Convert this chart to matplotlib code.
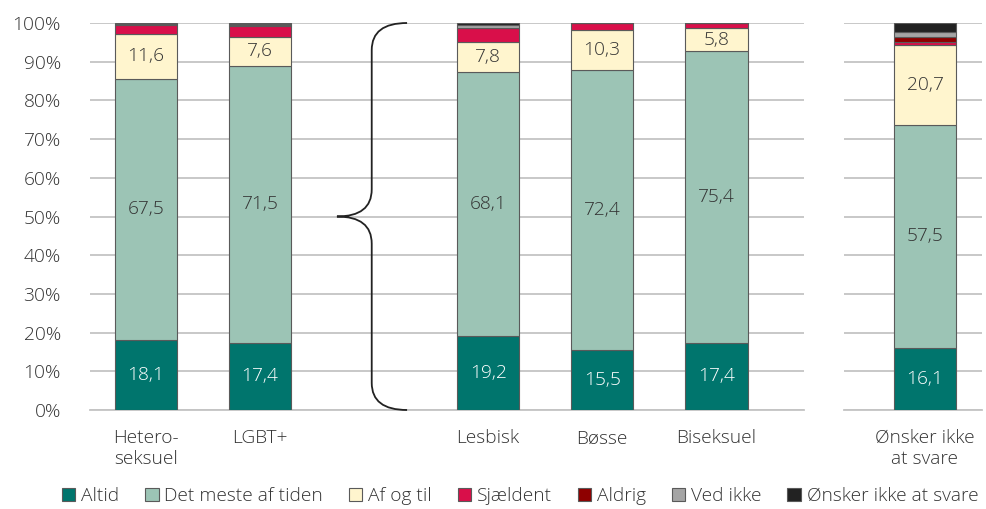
import matplotlib.pyplot as plt
from matplotlib.patches import Patch, PathPatch
from matplotlib.path import Path

plt.rcParams['font.family'] = ['Open Sans', 'DejaVu Sans']
plt.rcParams['font.weight'] = 'light'

# Groups: three main panels share one axis, the last one gets its own
grupper = ["Hetero-\nseksuel", "LGBT+", "Lesbisk", "Bøsse", "Biseksuel"]
grupper_pos = [0, 1, 3, 4, 5]
sidste_gruppe = "Ønsker ikke\nat svare"

kategorier = ["Altid", "Det meste af tiden", "Af og til", "Sjældent",
              "Aldrig", "Ved ikke", "Ønsker ikke at svare"]
farver = ["#00756D", "#9CC4B5", "#FFF5CE", "#D90F4A",
          "#8E0000", "#A5A5A5", "#222222"]

altid = [18.1, 17.4, 19.2, 15.5, 17.4]
meste = [67.5, 71.5, 68.1, 72.4, 75.4]
af_og_til = [11.6, 7.6, 7.8, 10.3, 5.8]
sjaeldent = [2.4, 2.7, 3.5, 1.8, 1.4]
aldrig = [0.1, 0.2, 0.2, 0.0, 0.0]
ved_ikke = [0.1, 0.3, 0.6, 0.0, 0.0]
onsker = [0.2, 0.3, 0.6, 0.0, 0.0]

# "Ønsker ikke at svare" group
sidste = [16.1, 57.5, 20.7, 0.9, 1.3, 1.2, 2.3]

serier = [altid, meste, af_og_til, sjaeldent, aldrig, ved_ikke, onsker]
vis_tal = [True, True, True, False, False, False, False]

BAR_W = 0.55
GRID = "#C4C4C4"
TXT = "#333333"
FS = 13.8

fig = plt.figure(figsize=(9.87, 5.09), dpi=100)
ax = fig.add_axes([90 / 987, 1 - 410 / 509, (804 - 90) / 987, 387 / 509])
ax2 = fig.add_axes([844 / 987, 1 - 410 / 509, (982 - 844) / 987, 387 / 509])


def tegn_stak(a, xs, vaerdier_liste):
    bund = [0.0] * len(xs)
    for i, vals in enumerate(vaerdier_liste):
        bars = a.bar(xs, vals, BAR_W, bottom=bund, color=farver[i],
                     edgecolor="#5A5A5A", linewidth=0.8, zorder=3)
        if vis_tal[i]:
            for b, v in zip(bars, vals):
                a.text(b.get_x() + b.get_width() / 2, b.get_y() + v / 2,
                       f"{v:.1f}".replace(".", ","), ha="center", va="center",
                       fontsize=FS, color="white" if i == 0 else TXT,
                       zorder=4)
        bund = [b + v for b, v in zip(bund, vals)]


tegn_stak(ax, grupper_pos, serier)
tegn_stak(ax2, [0], [[v] for v in sidste])

for a in (ax, ax2):
    a.set_ylim(0, 100)
    a.set_yticks(range(0, 101, 10))
    a.grid(axis="y", color=GRID, linewidth=1.3, zorder=0)
    for s in ("top", "right", "left"):
        a.spines[s].set_visible(False)
    a.spines["bottom"].set_color(GRID)
    a.spines["bottom"].set_linewidth(1.3)
    a.tick_params(axis="both", length=0, labelsize=FS, colors=TXT, pad=8)

ax.set_xlim(-0.49, 5.77)
ax.set_xticks(grupper_pos)
ax.set_xticklabels(grupper, linespacing=1.2)
ax.set_yticklabels([f"{v}%" for v in range(0, 101, 10)])
ax.tick_params(axis="x", pad=14)
ax.tick_params(axis="y", pad=21)

ax2.set_xlim(-0.71, 0.50)
ax2.set_xticks([0])
ax2.set_xticklabels([sidste_gruppe], linespacing=1.2)
ax2.tick_params(axis="x", pad=14)
ax2.set_yticklabels([])

# curly brace between the two first groups and the LGBT+ split
x0, xm, x1 = 1.675, 1.98, 2.29
k = Path.CURVE3
brace = Path(
    [(x1, 100), (xm, 100), (xm, 93), (xm, 57), (xm, 50), (x0, 50),
     (xm, 50), (xm, 43), (xm, 7), (xm, 0), (x1, 0)],
    [Path.MOVETO, k, k, Path.LINETO, k, k, k, k, Path.LINETO, k, k])
ax.add_patch(PathPatch(brace, facecolor="none", edgecolor="#222222",
                       linewidth=1.3, zorder=5, clip_on=False))

handles = [Patch(facecolor=c, edgecolor="#5A5A5A", linewidth=0.8) for c in farver]
fig.legend(handles, kategorier, loc="lower center", ncol=7, frameon=False,
           bbox_to_anchor=(0.527, -0.027), fontsize=FS, handlelength=0.7,
           handleheight=0.7, handletextpad=0.3, columnspacing=1.35,
           labelcolor=TXT)

fig.savefig("out.png", dpi=100)
